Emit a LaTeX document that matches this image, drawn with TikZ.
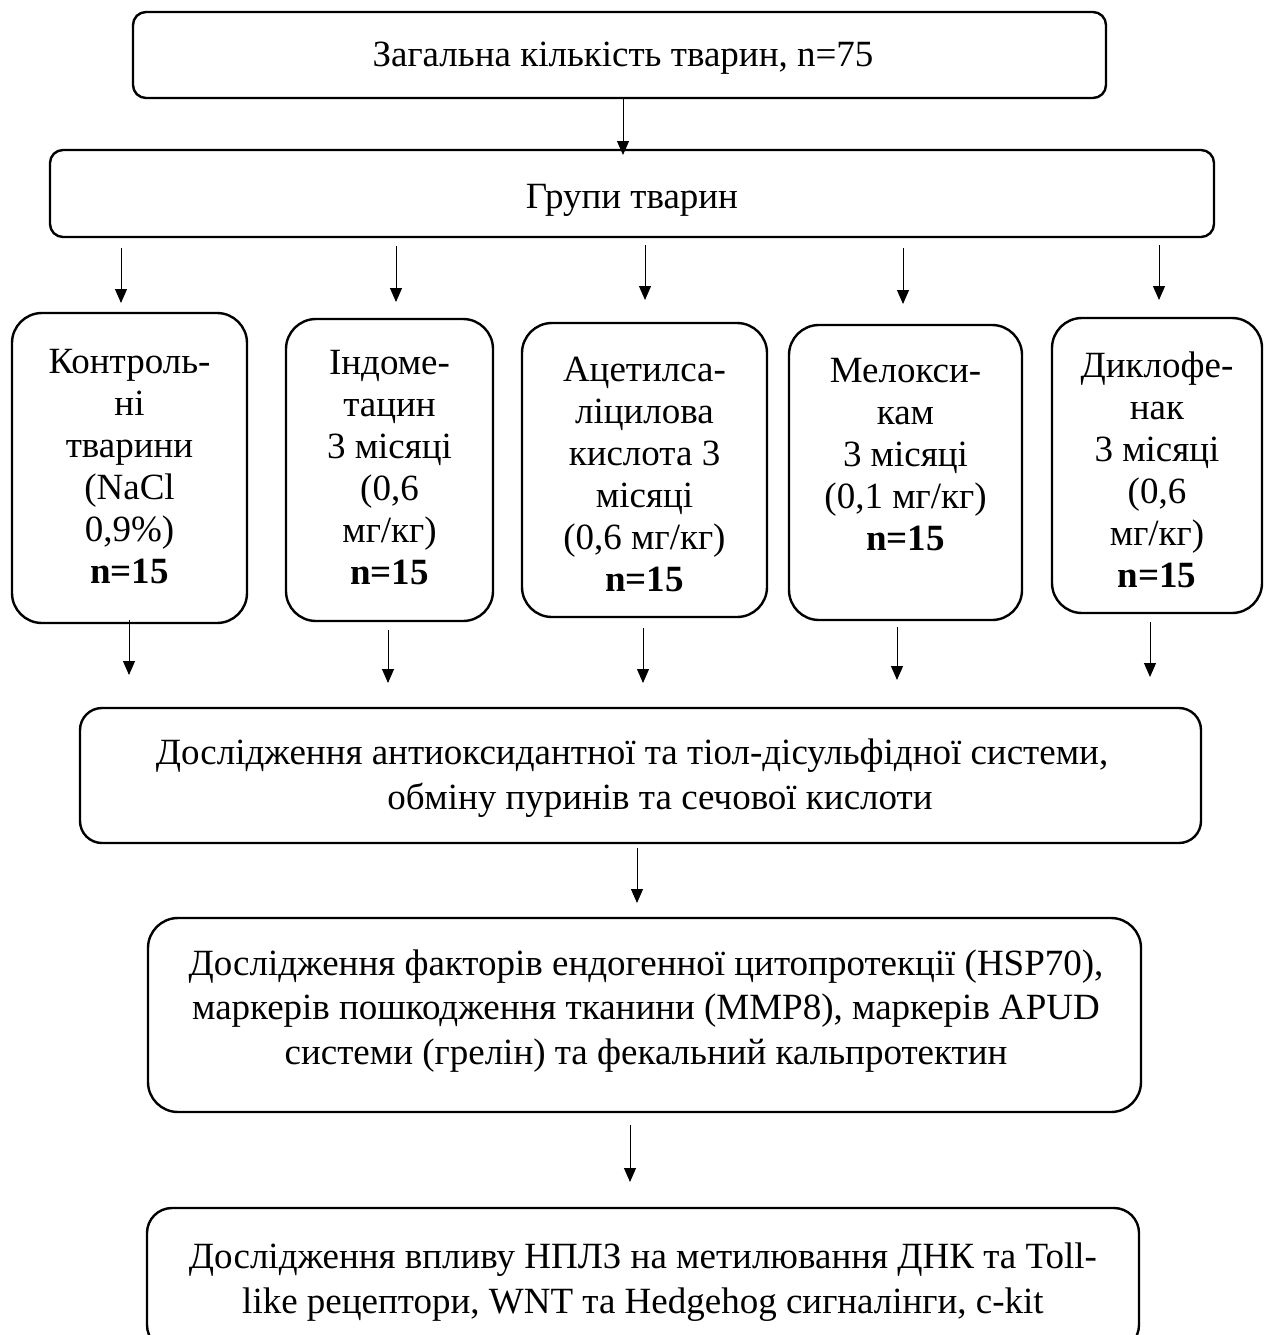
\documentclass[tikz,border=0pt]{standalone}
\usepackage{fontspec}
\setmainfont{Liberation Serif}
\usetikzlibrary{arrows.meta}
\begin{document}
\begin{tikzpicture}[x=1pt,y=-1pt,
  box/.style={draw, line width=2.4pt, rounded corners=#1, inner sep=0pt},
  box/.default=13pt,
  txt/.style={align=center, inner sep=0pt, font=\fontsize{37}{42}\selectfont},
  bigtxt/.style={align=center, inner sep=0pt, font=\fontsize{37}{44.5}\selectfont},
  arr/.style={-{Triangle[width=12pt,length=14pt]}, line width=1pt}]
\useasboundingbox (0,0) rectangle (1263,1335);
\clip (0,0) rectangle (1263,1335);

% top boxes
\node[box=13pt, minimum width=973pt, minimum height=86pt] (b1) at (619.5,55) {};
\node[txt, anchor=base] (t1) at (623,67) {Загальна кількість тварин, n=75};
\node[box=13pt, minimum width=1164pt, minimum height=87pt] (b2) at (632,193.5) {};
\node[txt, anchor=base] (t2) at (632,208) {Групи тварин};

% group boxes
\node[box=30pt, minimum width=235pt, minimum height=310pt] (gA) at (129.5,468) {};
\node[box=30pt, minimum width=207pt, minimum height=302pt] (gB) at (389.5,470) {};
\node[box=30pt, minimum width=245pt, minimum height=294pt] (gC) at (644.5,470) {};
\node[box=30pt, minimum width=233pt, minimum height=295pt] (gD) at (905.5,472.5) {};
\node[box=30pt, minimum width=210pt, minimum height=295pt] (gE) at (1157,465.5) {};

\node[txt] (tA) at (129.5,466.5) {Контроль-\\ні\\тварини\\(NaCl\\0,9\%)\\\textbf{n=15}};
\node[txt] (tB) at (389.5,467.5) {Індоме-\\тацин\\3 місяці\\(0,6\\мг/кг)\\\textbf{n=15}};
\node[txt] (tC) at (644.5,474.5) {Ацетилса-\\ліцилова\\кислота 3\\місяці\\(0,6 мг/кг)\\\textbf{n=15}};
\node[txt] (tD) at (905.5,455) {Мелокси-\\кам\\3 місяці\\(0,1 мг/кг)\\\textbf{n=15}};
\node[txt] (tE) at (1157,470) {Диклофе-\\нак\\3 місяці\\(0,6\\мг/кг)\\\textbf{n=15}};

% lower boxes
\node[box=22pt, minimum width=1121pt, minimum height=135pt] (bF) at (640.5,775.5) {};
\node[bigtxt] (tF) at (632,778) {Дослідження антиоксидантної та тіол-дісульфідної системи,\\\hspace*{56pt}обміну пуринів та сечової кислоти};
\node[box=30pt, minimum width=993pt, minimum height=194pt] (bG) at (644.5,1015) {};
\node[bigtxt] (tG) at (646,1011) {Дослідження факторів ендогенної цитопротекції (HSP70),\\маркерів пошкодження тканини (MMP8), маркерів APUD\\системи (грелін) та фекальний кальпротектин};
\node[box=25pt, minimum width=992pt, minimum height=142pt] (bH) at (643,1279) {};
\node[bigtxt] (tH) at (643,1282) {Дослідження впливу НПЛЗ на метилювання ДНК та Toll-\\like рецептори, WNT та Hedgehog сигналінги, c-kit};

% arrow end points
\coordinate (a0s) at (623,98);   \coordinate (a0e) at (623,155);
\coordinate (a1s) at (121,248);  \coordinate (a1e) at (121,303);
\coordinate (a2s) at (396,246);  \coordinate (a2e) at (396,302);
\coordinate (a3s) at (645,245);  \coordinate (a3e) at (645,300);
\coordinate (a4s) at (903,248);  \coordinate (a4e) at (903,304);
\coordinate (a5s) at (1159,245); \coordinate (a5e) at (1159,300);
\coordinate (c1s) at (129,620);  \coordinate (c1e) at (129,675);
\coordinate (c2s) at (388,630);  \coordinate (c2e) at (388,683);
\coordinate (c3s) at (643,628);  \coordinate (c3e) at (643,683);
\coordinate (c4s) at (897,627);  \coordinate (c4e) at (897,680);
\coordinate (c5s) at (1150,622); \coordinate (c5e) at (1150,677);
\coordinate (d1s) at (637,848);  \coordinate (d1e) at (637,903);
\coordinate (d2s) at (630,1125); \coordinate (d2e) at (630,1182);

\foreach \p in {a0,a1,a2,a3,a4,a5,c1,c2,c3,c4,c5,d1,d2}
  \draw[arr] (\p s) -- (\p e);
\end{tikzpicture}
\end{document}
